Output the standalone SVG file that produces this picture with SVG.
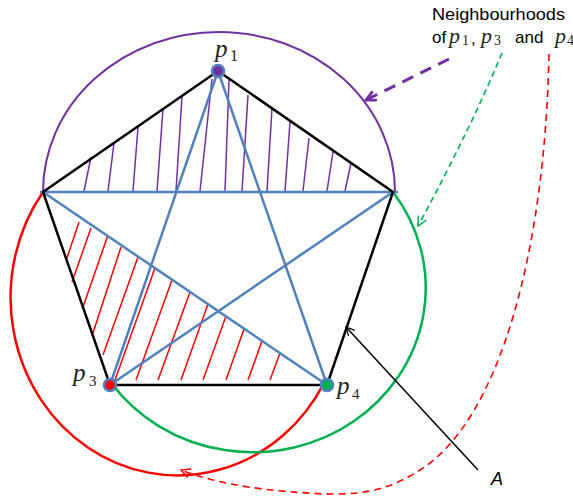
<svg xmlns="http://www.w3.org/2000/svg" width="573" height="501" viewBox="0 0 573 501">
<style>
.blk{stroke:#000;stroke-width:2.5;fill:none;stroke-linecap:round}
.blu{stroke:#4F81BD;stroke-width:2.5;fill:none}
.ph{stroke:#7030A0;stroke-width:1.5}
.rh{stroke:#FF0000;stroke-width:1.5}
.pi{font-family:"Liberation Serif",serif;font-style:italic;fill:#222}
.sub{font-family:"Liberation Serif",serif;fill:#222}
.lab{font-family:"Liberation Sans",sans-serif;fill:#000}
</style>
<defs>
<marker id="mP" viewBox="0 0 12 12" refX="10.5" refY="6" markerWidth="13" markerHeight="13" orient="auto" markerUnits="userSpaceOnUse"><path d="M1.5,1.5 L10.5,6 L1.5,10.5" fill="none" stroke="#7030A0" stroke-width="2.6"/></marker>
<marker id="mG" viewBox="0 0 12 12" refX="11" refY="6" markerWidth="11" markerHeight="11" orient="auto" markerUnits="userSpaceOnUse"><path d="M1,1 L11,6 L1,11" fill="none" stroke="#00B050" stroke-width="1.6"/></marker>
<marker id="mR" viewBox="0 0 12 12" refX="11" refY="6" markerWidth="11" markerHeight="11" orient="auto" markerUnits="userSpaceOnUse"><path d="M1,1 L11,6 L1,11" fill="none" stroke="#FF0000" stroke-width="1.6"/></marker>
<marker id="mA" viewBox="0 0 12 12" refX="11" refY="6" markerWidth="10" markerHeight="10" orient="auto" markerUnits="userSpaceOnUse"><path d="M1,1 L11,6 L1,11" fill="none" stroke="#000" stroke-width="1.5"/></marker>
</defs>

<g id="neighbourhoods">
<path d="M43,192 A176,160 0 0 1 395,192" fill="none" stroke="#7030A0" stroke-width="2"/>
<path d="M43,192 A167,178 0 1 0 324,383" fill="none" stroke="#FF0000" stroke-width="2.5"/>
<path d="M393,192 A173,164 0 1 1 112,384" fill="none" stroke="#00B050" stroke-width="2.5"/>
</g>

<g id="hatch-purple">
<line class="ph" x1="84" y1="191" x2="91" y2="157"/>
<line class="ph" x1="108" y1="191" x2="114" y2="143"/>
<line class="ph" x1="133" y1="191" x2="138" y2="127"/>
<line class="ph" x1="157" y1="191" x2="163" y2="109"/>
<line class="ph" x1="176" y1="191" x2="182" y2="96"/>
<line class="ph" x1="200" y1="191" x2="212" y2="79"/>
<line class="ph" x1="225" y1="191" x2="229" y2="80"/>
<line class="ph" x1="242" y1="191" x2="248" y2="95"/>
<line class="ph" x1="267" y1="191" x2="272" y2="108"/>
<line class="ph" x1="285" y1="191" x2="290" y2="122"/>
<line class="ph" x1="303" y1="191" x2="309" y2="138"/>
<line class="ph" x1="327" y1="191" x2="333" y2="152"/>
<line class="ph" x1="345" y1="191" x2="351" y2="163"/>
</g>

<g id="hatch-red">
<line class="rh" x1="79" y1="222" x2="67" y2="258"/>
<line class="rh" x1="91" y1="228" x2="72" y2="282"/>
<line class="rh" x1="108" y1="235" x2="83" y2="307"/>
<line class="rh" x1="121" y1="247" x2="92" y2="336"/>
<line class="rh" x1="138" y1="257" x2="103" y2="355"/>
<line class="rh" x1="155" y1="268" x2="115" y2="380"/>
<line class="rh" x1="172" y1="280" x2="136" y2="380"/>
<line class="rh" x1="190" y1="292" x2="158" y2="380"/>
<line class="rh" x1="208" y1="304" x2="181" y2="380"/>
<line class="rh" x1="226" y1="316" x2="203" y2="380"/>
<line class="rh" x1="244" y1="329" x2="226" y2="380"/>
<line class="rh" x1="262" y1="341" x2="248" y2="380"/>
<line class="rh" x1="280" y1="353" x2="270" y2="380"/>
</g>

<g id="connectors">
<line class="blu" x1="40" y1="192" x2="398" y2="192"/>
<line class="blu" x1="218" y1="71" x2="110" y2="385"/>
<line class="blu" x1="218" y1="71" x2="327" y2="385"/>
<line class="blu" x1="43" y1="192" x2="327" y2="385"/>
<line class="blu" x1="393" y1="192" x2="110" y2="385"/>
<path class="blk" d="M218,71 L43,192 L110,385 L327,385 L393,192 Z"/>
<line x1="449" y1="59" x2="366" y2="100" stroke="#7030A0" stroke-width="3" stroke-dasharray="12,8" marker-end="url(#mP)"/>
<path d="M502,53 Q470,130 418,226" fill="none" stroke="#00B050" stroke-width="1.6" stroke-dasharray="6,4" marker-end="url(#mG)"/>
<path d="M549,54 C545,250 500,420 420,470 C395,486 370,495 330,494 C270,492 220,485 181,470" fill="none" stroke="#FF0000" stroke-width="1.6" stroke-dasharray="7,5" marker-end="url(#mR)"/>
<line x1="478" y1="470" x2="346" y2="327" stroke="#000" stroke-width="1.5" marker-end="url(#mA)"/>
</g>

<g id="p1">
<circle cx="218" cy="71" r="6" fill="#7030A0" stroke="#4F81BD" stroke-width="2.5"/>
<text class="pi" x="215" y="57" font-size="25">p</text><text class="sub" x="230" y="61" font-size="16">1</text>
</g>
<g id="p3">
<circle cx="110" cy="385" r="6" fill="#FF0000" stroke="#4F81BD" stroke-width="2.5"/>
<text class="pi" x="73" y="381" font-size="25">p</text><text class="sub" x="89" y="386" font-size="15">3</text>
</g>
<g id="p4">
<circle cx="327" cy="385" r="6" fill="#00B050" stroke="#4F81BD" stroke-width="2.5"/>
<text class="pi" x="337" y="394" font-size="25">p</text><text class="sub" x="352" y="399" font-size="15">4</text>
</g>
<g id="label-A">
<text x="491" y="485" font-family="Liberation Sans,sans-serif" font-style="italic" font-size="18">A</text>
</g>
<g id="title">
<text class="lab" x="432" y="20" font-size="17" textLength="133" lengthAdjust="spacingAndGlyphs">Neighbourhoods</text>
<text class="lab" x="432" y="43" font-size="17">of</text>
<text class="pi" x="449" y="43" font-size="22">p</text><text class="sub" x="462" y="45" font-size="14">1</text>
<text class="lab" x="471" y="44" font-size="17">,</text>
<text class="pi" x="481" y="43" font-size="22">p</text><text class="sub" x="494" y="45" font-size="14">3</text>
<text class="lab" x="515" y="43" font-size="17">and</text>
<text class="pi" x="555" y="43" font-size="22">p</text><text class="sub" x="567" y="45" font-size="14">4</text>
</g>
</svg>
